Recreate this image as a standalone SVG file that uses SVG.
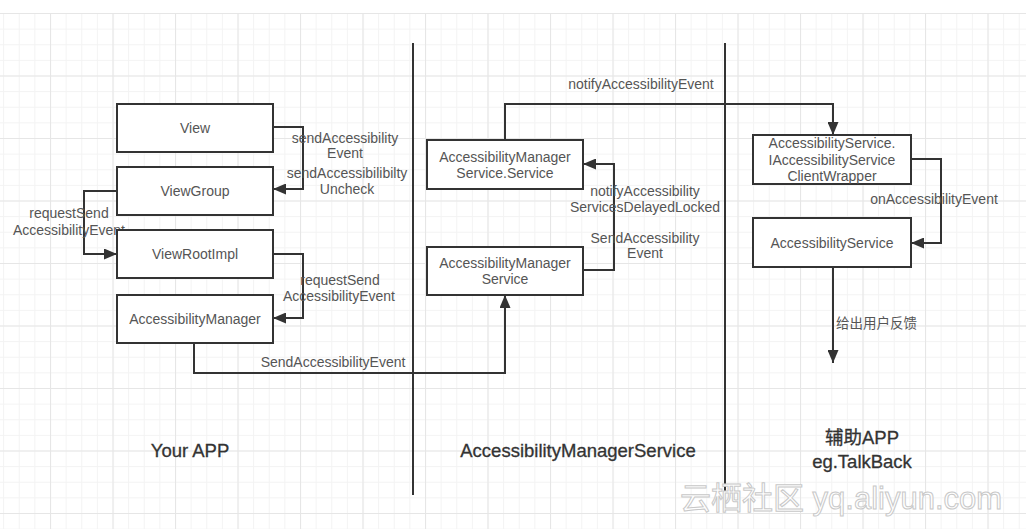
<svg xmlns="http://www.w3.org/2000/svg" width="1026" height="529" viewBox="0 0 1026 529">
<style>
.box{fill:#fff;stroke:#333;stroke-width:2}
.ln{fill:none;stroke:#333;stroke-width:2}
.t{font-family:"Liberation Sans",Arial,"Noto Sans CJK SC",sans-serif;font-size:14px;fill:#555;text-anchor:middle}
.lb{font-family:"Liberation Sans",Arial,"Noto Sans CJK SC",sans-serif;font-size:14px;fill:#555;text-anchor:middle}
.big{font-family:"Liberation Sans",Arial,"Noto Sans CJK SC",sans-serif;font-size:18.5px;fill:#333;text-anchor:middle;stroke:#333;stroke-width:0.3}
.wm{font-family:"Liberation Sans",Arial,"Noto Sans CJK SC",sans-serif;font-size:31px;fill:#fff;stroke:#c8c8c8;stroke-width:1}
</style>
<defs>
<pattern id="minor" x="-12.5" y="13" width="15.625" height="15.625" patternUnits="userSpaceOnUse">
<path d="M0,0.5 H15.625 M0.5,0 V15.625" fill="none" stroke="#f3f3f3" stroke-width="1"/>
</pattern>
<pattern id="major" x="-12.5" y="13" width="62.5" height="62.5" patternUnits="userSpaceOnUse">
<path d="M0,0.5 H62.5 M0.5,0 V62.5" fill="none" stroke="#e6e6e6" stroke-width="1.2"/>
</pattern>
<marker id="arr" markerWidth="13" markerHeight="11" refX="13" refY="5.5" orient="auto" markerUnits="userSpaceOnUse">
<path d="M0,0 L13,5.5 L0,11 Z" fill="#333"/>
</marker>
</defs>
<rect width="1026" height="529" fill="#fff"/>
<rect x="0" y="13" width="1026" height="516" fill="url(#minor)"/>
<rect x="0" y="13" width="1026" height="516" fill="url(#major)"/>

<g id="swimlanes">
<line class="ln" x1="413" y1="43" x2="413" y2="495"/>
<line class="ln" x1="725" y1="43" x2="725" y2="493"/>
</g>

<g id="connectors">
<path class="ln" d="M273,127 H303 V189 H273" marker-end="url(#arr)"/>
<path class="ln" d="M117,191 H84 V254 H117" marker-end="url(#arr)"/>
<path class="ln" d="M273,254 H303 V318 H273" marker-end="url(#arr)"/>
<path class="ln" d="M194,343 V373 H505 V295" marker-end="url(#arr)"/>
<path class="ln" d="M583,270 H614 V164 H583" marker-end="url(#arr)"/>
<path class="ln" d="M505,140 V104 H833 V135" marker-end="url(#arr)"/>
<path class="ln" d="M911,159 H941 V243 H911" marker-end="url(#arr)"/>
<path class="ln" d="M833,267 V363" marker-end="url(#arr)"/>
<text class="lb" x="345" y="143">sendAccessibility</text>
<text class="lb" x="345" y="158">Event</text>
<text class="lb" x="347" y="178">sendAccessibilibilty</text>
<text class="lb" x="347" y="194">Uncheck</text>
<text class="lb" x="69" y="218">requestSend</text>
<text class="lb" x="69" y="235">AccessibilityEvent</text>
<text class="lb" x="340" y="285">requestSend</text>
<text class="lb" x="339" y="301">AccessibilityEvent</text>
<text class="lb" x="333" y="367">SendAccessibilityEvent</text>
<text class="lb" x="641" y="89">notifyAccessibilityEvent</text>
<text class="lb" x="645" y="196">notifyAccessibility</text>
<text class="lb" x="645" y="212">ServicesDelayedLocked</text>
<text class="lb" x="645" y="243">SendAccessibility</text>
<text class="lb" x="645" y="258">Event</text>
<text class="lb" x="934" y="204">onAccessibilityEvent</text>
<text class="lb" x="836" y="328" style="text-anchor:start;font-size:13.5px">给出用户反馈</text>
</g>

<g id="view"><rect class="box" x="117" y="104" width="156" height="48"/><text class="t" x="195" y="133">View</text></g>
<g id="viewgroup"><rect class="box" x="117" y="167" width="156" height="48"/><text class="t" x="195" y="196">ViewGroup</text></g>
<g id="viewrootimpl"><rect class="box" x="117" y="230" width="156" height="48"/><text class="t" x="195" y="259">ViewRootImpl</text></g>
<g id="accessibilitymanager"><rect class="box" x="117" y="295" width="156" height="48"/><text class="t" x="195" y="324">AccessibilityManager</text></g>

<g id="ams-service"><rect class="box" x="427" y="140" width="156" height="49"/><text class="t" x="505" y="162">AccessibilityManager</text><text class="t" x="505" y="178">Service.Service</text></g>
<g id="ams"><rect class="box" x="427" y="247" width="156" height="48"/><text class="t" x="505" y="268">AccessibilityManager</text><text class="t" x="505" y="284">Service</text></g>

<g id="clientwrapper"><rect class="box" x="753" y="135" width="158" height="49"/><text class="t" x="832" y="148">AccessibilityService.</text><text class="t" x="832" y="165">IAccessibilityService</text><text class="t" x="832" y="181">ClientWrapper</text></g>
<g id="accessibilityservice"><rect class="box" x="753" y="218" width="158" height="49"/><text class="t" x="832" y="248">AccessibilityService</text></g>

<g id="lane-labels">
<text class="big" x="190" y="457">Your APP</text>
<text class="big" x="578" y="457">AccessibilityManagerService</text>
<text class="big" x="862" y="444">辅助APP</text>
<text class="big" x="862" y="468">eg.TalkBack</text>
</g>

<text class="wm" x="680" y="509">云栖社区 yq.aliyun.com</text>
</svg>
